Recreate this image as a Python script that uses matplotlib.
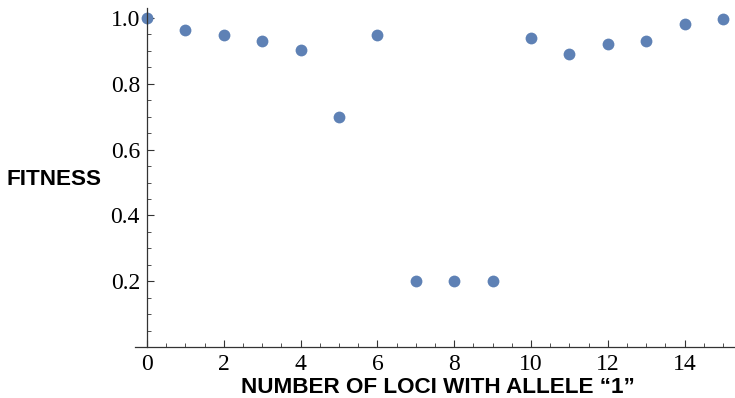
import matplotlib
matplotlib.use("Agg")
import matplotlib.pyplot as plt
from matplotlib.ticker import MultipleLocator

# fitness of genotypes vs. number of loci carrying allele "1"
loci = [0, 1, 2, 3, 4, 5, 6, 7, 8, 9, 10, 11, 12, 13, 14, 15]
fitness = [1.0, 0.963, 0.948, 0.930, 0.903, 0.70, 0.948, 0.20,
           0.20, 0.20, 0.939, 0.891, 0.920, 0.929, 0.982, 0.996]
y_ticks = [0.2, 0.4, 0.6, 0.8, 1.0]
x_ticks = [0, 2, 4, 6, 8, 10, 12, 14]

fig = plt.figure(figsize=(7.35, 3.98), dpi=100)
ax = fig.add_axes([0.1837, 0.1281, 0.8163, 0.8515])

ax.plot(loci, fitness, "o", color="#5E81B5", markersize=8.5,
        markeredgewidth=0, clip_on=False)

ax.set_xlim(-0.31, 15.31)
ax.set_ylim(0, 1.03)

# axes crossing at the origin, ticks pointing inward
for side in ("top", "right"):
    ax.spines[side].set_visible(False)
ax.spines["left"].set_position(("data", 0))
ax.spines["bottom"].set_position(("data", 0))
for side in ("left", "bottom"):
    ax.spines[side].set_linewidth(0.9)
    ax.spines[side].set_color("#333333")

ax.set_xticks(x_ticks)
ax.set_yticks(y_ticks)
ax.set_yticklabels([f"{v:.1f}" for v in y_ticks])
ax.xaxis.set_minor_locator(MultipleLocator(0.5))
ax.yaxis.set_minor_locator(MultipleLocator(0.05))
ax.tick_params(which="major", direction="in", length=5, width=0.8,
               color="#333333", labelsize=17, pad=5)
ax.tick_params(which="minor", direction="in", length=3, width=0.6,
               color="#333333")
for lab in ax.get_xticklabels() + ax.get_yticklabels():
    lab.set_fontfamily("Liberation Serif")

fig.text(0.0095, 0.548, "FITNESS", fontsize=16.2, fontweight="bold",
         family="Liberation Sans", ha="left", va="center")
fig.text(0.596, 0.0, "NUMBER OF LOCI WITH ALLELE \u201c1\u201d", fontsize=16.2,
         fontweight="bold", family="Liberation Sans", ha="center", va="bottom")

fig.savefig("out.png", dpi=100)
